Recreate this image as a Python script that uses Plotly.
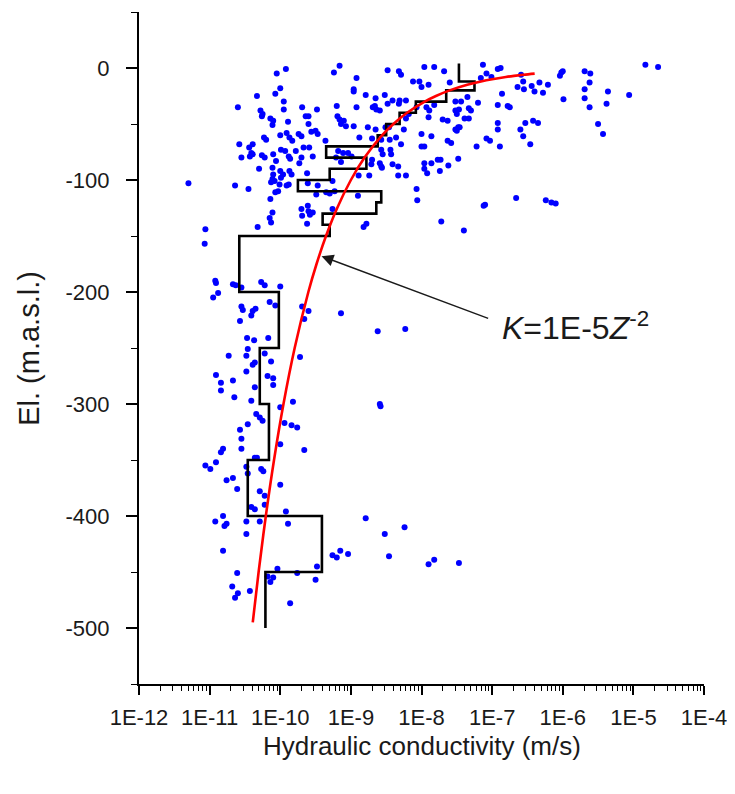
import plotly.graph_objects as go

# ---------------- data ----------------
# scattered measurements: log10 of hydraulic conductivity (m/s) and elevation (m.a.s.l.)
log_k_a = [
    -9.16, -9.24, -9.92, -10.05, -8.48, -8.32, -8.29, -8.12, -8.92, -8.96,
    -8.96, -8.79, -8.65, -8.52, -10.00, -10.07, -10.33, -9.95, -9.95, -10.60,
    -10.28, -10.26, -10.25, -9.69, -9.64, -9.60, -9.48, -9.20, -8.92, -8.69,
    -8.64, -8.59, -8.66, -8.41, -8.31, -8.32, -8.48, -8.22, -8.07, -8.18,
    -8.22, -9.19, -9.16, -9.10, -9.14, -9.07, -10.14, -10.10, -9.89, -9.60,
    -10.11, -8.96, -8.76, -8.65, -8.51, -8.46, -8.25, -10.00, -9.91, -9.87,
    -9.83, -9.74, -9.70, -9.56, -9.50, -9.47, -10.58, -10.44, -10.39, -10.23,
    -10.20, -9.99, -9.93, -9.78, -9.67, -9.59, -9.36, -8.88, -8.70, -8.57,
    -8.45, -8.36, -8.29, -10.55, -10.43, -10.41, -10.39, -10.26, -10.22, -10.10,
    -10.06, -9.88, -9.86, -9.70, -9.73, -9.54, -9.18, -9.11, -9.04, -8.99,
    -9.21, -9.14, -8.57, -8.55, -8.43, -8.44, -8.70, -8.71, -8.59, -8.57,
    -8.56, -8.41, -8.33, -10.30, -10.11, -10.10, -10.11, -10.13, -10.08, -10.00,
    -9.96, -9.99, -9.87, -9.84, -9.62, -10.01, -9.91, -9.88, -10.64, -10.45,
    -10.07, -10.03, -10.14, -9.61, -9.47, -9.49, -9.35, -9.30, -9.23, -9.26,
    -8.89, -8.90, -8.74, -8.33, -8.22, -8.07, -8.06, -10.11, -10.15, -10.13,
    -9.70, -9.69, -9.61, -9.60, -9.54, -9.58, -9.62, -9.26, -11.06, -11.07,
    -10.32, -8.82, -8.78, -8.03, -11.30,
]
elev_a = [
    2, -4, -1, -5, -2, -3, -6, -12, -9, -19,
    -21, -24, -27, -24, -18, -23, -25, -30, -37, -35,
    -38, -43, -41, -35, -43, -43, -37, -34, -35, -35,
    -37, -38, -34, -29, -29, -32, -32, -29, -35, -41,
    -45, -43, -46, -47, -50, -52, -45, -47, -48, -50,
    -51, -52, -53, -55, -53, -53, -55, -60, -58, -62,
    -65, -59, -61, -57, -56, -59, -68, -71, -68, -62,
    -64, -73, -74, -74, -71, -71, -65, -62, -63, -64,
    -64, -62, -68, -80, -79, -76, -77, -78, -80, -77,
    -83, -79, -81, -80, -85, -79, -74, -76, -76, -79,
    -80, -84, -73, -77, -77, -73, -82, -86, -85, -88,
    -89, -86, -88, -90, -89, -95, -99, -102, -101, -92,
    -95, -98, -92, -95, -94, -104, -105, -104, -105, -108,
    -111, -110, -117, -103, -105, -113, -111, -112, -110, -101,
    -96, -114, -96, -96, -96, -108, -118, -129, -134, -138,
    -126, -132, -123, -128, -129, -131, -139, -126, -144, -157,
    -142, -142, -139, -12, -103,
]
log_k_b = [
    -7.96, -7.82, -7.68, -7.13, -7.08, -7.01, -6.92, -6.88, -7.16, -7.60,
    -7.90, -8.00, -6.59, -6.56, -6.55, -6.64, -6.44, -6.40, -6.33, -6.28,
    -6.21, -6.86, -6.02, -6.00, -6.04, -5.99, -5.69, -5.61, -5.62, -5.69,
    -5.69, -5.62, -5.36, -5.38, -5.06, -4.83, -4.65, -5.50, -5.43, -7.35,
    -7.20, -7.52, -7.44, -7.89, -7.82, -7.93, -7.52, -7.47, -7.50, -7.33,
    -7.30, -7.39, -7.33, -7.90, -7.70, -7.63, -6.92, -6.78, -6.75, -6.92,
    -6.92, -6.53, -6.42, -6.35, -6.60, -6.56, -6.46, -7.52, -7.48, -7.46,
    -7.50, -8.00, -7.86, -7.96, -8.00, -7.63, -7.58, -7.08, -7.03, -7.22,
    -6.89, -7.96, -7.86, -7.77, -7.73, -7.96, -7.92, -7.74, -7.62, -7.48,
    -6.66, -7.12, -7.10, -6.24, -6.16, -6.10, -7.72, -7.40,
]
elev_b = [
    1, 1, -3, 3, -5, -8, -1, 0, -9, -13,
    -15, -17, -6, -12, -19, -17, -16, -21, -13, -22,
    -15, -23, -4, -3, -7, -28, -3, -5, -13, -19,
    -27, -35, -21, -32, -24, 3, 1, -50, -59, -26,
    -31, -30, -30, -38, -33, -35, -38, -37, -41, -36,
    -38, -45, -45, -44, -46, -47, -33, -34, -35, -49,
    -55, -49, -47, -49, -55, -61, -68, -55, -53, -53,
    -56, -59, -61, -70, -70, -65, -67, -63, -65, -70,
    -70, -85, -85, -82, -82, -90, -94, -92, -87, -81,
    -116, -123, -122, -118, -120, -121, -137, -145,
]
log_k_c = [
    -10.92, -10.91, -10.95, -10.88, -10.67, -10.63, -10.55, -10.27, -10.22, -10.00,
    -10.15, -10.07, -10.55, -10.53, -10.41, -10.39, -10.35, -10.57, -9.69, -9.60,
    -9.66, -9.14, -8.62, -8.23, -10.47, -10.37, -10.17, -10.73, -10.48, -10.46,
    -10.36, -10.39, -10.22, -10.13, -9.72, -10.91, -10.67, -10.48, -10.18, -10.10,
]
elev_c = [
    -190, -192, -205, -201, -193, -194, -196, -191, -194, -195,
    -209, -212, -213, -216, -221, -217, -215, -226, -213, -217,
    -224, -219, -235, -233, -241, -243, -241, -257, -257, -251,
    -263, -265, -255, -262, -258, -274, -279, -271, -275, -277,
]
log_k_d = [
    -10.84, -10.84, -10.36, -10.10, -10.65, -10.41, -8.59, -8.58, -9.82, -10.00,
    -10.34, -10.29, -10.25, -10.46, -10.57, -10.55, -10.55, -9.94, -9.84, -9.76,
    -10.00, -10.81, -10.84, -9.66, -10.91, -11.06, -10.99, -10.48, -10.46, -10.36,
    -10.33, -10.27, -10.24, -10.76, -10.67, -10.61, -10.00, -10.29, -10.22, -10.22,
    -10.41, -10.36, -9.92, -10.92, -10.81, -10.79, -10.76, -10.48, -10.29, -9.89,
    -10.48, -10.81, -8.79, -8.52, -8.24, -9.26, -9.20, -9.15, -9.04, -8.46,
    -7.90, -7.82, -9.48, -9.50, -10.04, -10.10, -10.14, -10.18, -9.76, -10.61,
    -10.68, -10.60, -10.64, -10.43, -9.86, -7.47,
]
elev_d = [
    -281, -288, -285, -283, -294, -297, -300, -302, -298, -303,
    -309, -312, -315, -318, -323, -331, -340, -317, -319, -321,
    -336, -340, -343, -341, -352, -355, -358, -356, -362, -348,
    -348, -358, -360, -368, -366, -376, -372, -378, -382, -390,
    -392, -394, -396, -405, -400, -409, -407, -405, -405, -407,
    -416, -431, -402, -416, -410, -435, -437, -431, -434, -436,
    -443, -439, -445, -457, -447, -455, -459, -454, -451, -451,
    -463, -469, -473, -467, -478, -442,
]

# interval-averaged conductivity profile (black steps)
step_top = [4, -12, -20, -30, -40, -50, -60, -70, -80, -90, -100, -110, -120, -130,
            -140, -150, -200, -250, -300, -350, -400, -450]
step_bottom = [-12, -20, -30, -40, -50, -60, -70, -80, -90, -100, -110, -120, -130, -140,
               -150, -200, -250, -300, -350, -400, -450, -500]
step_log_k = [-7.47, -7.25, -7.65, -8.08, -8.31, -8.50, -8.62, -9.35, -8.78, -9.30, -9.75,
              -8.57, -8.64, -9.40, -9.30, -10.58, -10.02, -10.29, -10.16, -10.46, -9.41, -10.21]

# fitted relation K = 1E-5 Z^-2 (red curve)
curve_elev = [-5, -6, -7, -8, -10, -12, -15, -20, -25, -30, -40, -50, -60, -80, -100,
              -125, -150, -175, -200, -250, -300, -350, -400, -450, -495]
curve_k = [4.0e-7, 2.778e-7, 2.041e-7, 1.5625e-7, 1.0e-7, 6.944e-8, 4.444e-8, 2.5e-8,
           1.6e-8, 1.111e-8, 6.25e-9, 4.0e-9, 2.778e-9, 1.5625e-9, 1.0e-9, 6.4e-10,
           4.444e-10, 3.265e-10, 2.5e-10, 1.6e-10, 1.111e-10, 8.163e-11, 6.25e-11,
           4.938e-11, 4.081e-11]

x_tick_vals = [1e-12, 1e-11, 1e-10, 1e-9, 1e-8, 1e-7, 1e-6, 1e-5, 1e-4]
x_tick_text = ["1E-12", "1E-11", "1E-10", "1E-9", "1E-8", "1E-7", "1E-6", "1E-5", "1E-4"]
y_tick_vals = [0, -100, -200, -300, -400, -500]
y_tick_text = ["0", "-100", "-200", "-300", "-400", "-500"]

# ---------------- figure ----------------
pts_k = [10 ** v for v in (log_k_a + log_k_b + log_k_c + log_k_d)]
pts_el = elev_a + elev_b + elev_c + elev_d

step_x, step_y = [], []
for top, bot, lk in zip(step_top, step_bottom, step_log_k):
    step_x += [10 ** lk, 10 ** lk]
    step_y += [top, bot]

minor_vals = [m * d for d in x_tick_vals[:-1] for m in range(2, 10)]

FONT = "Liberation Sans, Arial, sans-serif"
TXT = "#1a1a1a"
fig = go.Figure()
fig.add_trace(go.Scatter(x=pts_k, y=pts_el, mode="markers",
                         marker=dict(color="#0000ff", size=6, line=dict(width=0))))
fig.add_trace(go.Scatter(x=step_x, y=step_y, mode="lines",
                         line=dict(color="black", width=2.6)))
fig.add_trace(go.Scatter(x=curve_k, y=curve_elev, mode="lines",
                         line=dict(color="#ff0000", width=2.6, shape="spline")))

# page body adds an 8 px offset, so the figure is 8 px smaller and margins shifted
fig.update_layout(
    width=727, height=786,
    margin=dict(l=131, r=31, t=4, b=110),
    plot_bgcolor="white", paper_bgcolor="white",
    showlegend=False,
    font=dict(family=FONT, color=TXT),
)
fig.update_xaxes(
    type="log", range=[-12, -4],
    tickmode="array", tickvals=x_tick_vals, ticktext=x_tick_text,
    ticks="outside", ticklen=9, tickwidth=1.6, tickcolor="black",
    ticklabelstandoff=4,
    showline=True, linecolor="black", linewidth=2,
    showgrid=False, zeroline=False, automargin=False,
    tickfont=dict(size=22, family=FONT, color=TXT),
    minor=dict(tickmode="array", tickvals=minor_vals, ticks="outside",
               ticklen=5, tickwidth=1.4, tickcolor="black", showgrid=False),
)
fig.update_yaxes(
    range=[-550, 50],
    tickmode="array", tickvals=y_tick_vals, ticktext=y_tick_text,
    ticks="outside", ticklen=11, tickwidth=1.6, tickcolor="black",
    ticklabelstandoff=12,
    showline=True, linecolor="black", linewidth=2,
    showgrid=False, zeroline=False, automargin=False,
    tickfont=dict(size=22, family=FONT, color=TXT),
    minor=dict(dtick=50, ticks="outside", ticklen=6, tickwidth=1.4,
               tickcolor="black", showgrid=False),
)

# axis titles
fig.add_annotation(text="Hydraulic conductivity (m/s)", xref="paper", yref="paper",
                   x=0.5, y=-0.092, xanchor="center", yanchor="middle",
                   showarrow=False, font=dict(size=26, family=FONT, color=TXT))
fig.add_annotation(text="El. (m.a.s.l.)", xref="paper", yref="paper",
                   x=-0.195, y=0.5, xanchor="center", yanchor="middle", textangle=-90,
                   showarrow=False, font=dict(size=29, family=FONT, color=TXT))

# arrow to the curve and its label
fig.add_annotation(x=-9.415, y=-168, ax=-7.035, ay=-224, xref="x", yref="y",
                   axref="x", ayref="y", text="", showarrow=True,
                   arrowhead=2, arrowsize=1.7, arrowwidth=1.4, arrowcolor=TXT)
fig.add_annotation(x=-6.89, y=-230, xref="x", yref="y", xanchor="left", yanchor="middle",
                   text="<i>K</i>=1E-5<i>Z</i><sup>-2</sup>", showarrow=False,
                   font=dict(size=32, family=FONT, color=TXT))

fig.write_html("out.html")
